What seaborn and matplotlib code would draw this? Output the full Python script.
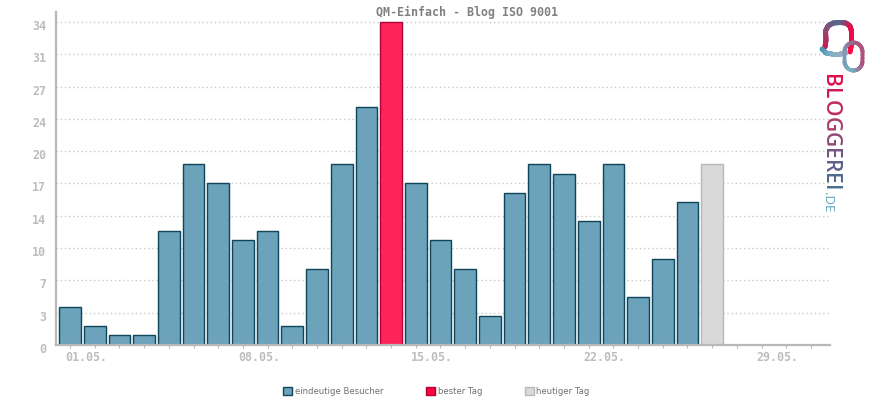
import numpy as np
import pandas as pd
import matplotlib
matplotlib.use("Agg")
import matplotlib.pyplot as plt
import seaborn as sns
from matplotlib.patches import Patch
from matplotlib.transforms import ScaledTranslation
from matplotlib.collections import LineCollection
from matplotlib.colors import LinearSegmentedColormap

# ---------- data ----------
all_days = [f"{d:02d}.05." for d in range(1, 32)]
visitors = [4, 2, 1, 1, 12, 19, 17, 11, 12, 2, 8, 19, 25, 34, 17, 11, 8, 3, 16, 19, 18, 13, 19, 5, 9, 15, 19]
kinds = ["eindeutige Besucher"] * 13 + ["bester Tag"] + ["eindeutige Besucher"] * 12 + ["heutiger Tag"]
y_tick_values = [0, 3.4, 6.8, 10.2, 13.6, 17, 20.4, 23.8, 27.2, 30.6, 34]
y_tick_labels = ["0", "3", "7", "10", "14", "17", "20", "24", "27", "31", "34"]
title = "QM-Einfach - Blog ISO 9001"
legend_labels = ["eindeutige Besucher", "bester Tag", "heutiger Tag"]

fills = {"eindeutige Besucher": "#6ca2ba", "bester Tag": "#ff2458", "heutiger Tag": "#d9d9d9"}
edges = {"eindeutige Besucher": "#0f4559", "bester Tag": "#b0003c", "heutiger Tag": "#b8b8b8"}
legend_fills = {"eindeutige Besucher": "#6ca2ba", "bester Tag": "#ff0040", "heutiger Tag": "#d9d9d9"}

df = pd.DataFrame({"day": all_days[:len(visitors)], "value": visitors, "kind": kinds})

# ---------- figure ----------
sns.set_theme(style="white")
plt.rcParams["font.family"] = ["DejaVu Sans"]
W, H = 870, 400
fig = plt.figure(figsize=(W / 100, H / 100), dpi=100, facecolor="white")
ax = fig.add_axes([56 / W, (H - 345) / H, (830 - 56) / W, (345 - 12) / H])

sns.barplot(data=df, x="day", y="value", hue="kind", order=all_days, hue_order=legend_labels,
            palette=fills, dodge=False, width=0.88, legend=False, ax=ax, zorder=3, saturation=1)
for container, kind in zip(ax.containers, legend_labels):
    for bar in container:
        bar.set_edgecolor(edges[kind])
        bar.set_linewidth(1.0)

ax.set_xlim(-0.567, 30.77)
ax.set_ylim(0, 35.05)
ax.set_xlabel("")
ax.set_ylabel("")

mono = "DejaVu Sans Mono"
tick_grey = "#bdbdbd"
ax.set_yticks(y_tick_values)
ax.set_yticklabels(y_tick_labels, family=mono, fontsize=8.4, color=tick_grey, fontweight="bold")
ax.tick_params(axis="y", length=0, pad=7)
y_offset = ScaledTranslation(0, -3 / 100, fig.dpi_scale_trans)
for lab in ax.get_yticklabels():
    lab.set_transform(lab.get_transform() + y_offset)
ax.set_xticks(range(len(all_days)))
x_labels = [d if (i % 7 == 0 and i < 29) else "" for i, d in enumerate(all_days)]
ax.set_xticklabels(x_labels, family=mono, fontsize=8.4, color=tick_grey, fontweight="bold")
ax.tick_params(axis="x", length=2.5, width=0.8, color="#b8b8b8", pad=2, bottom=True)
offset = ScaledTranslation(16 / 100, 0, fig.dpi_scale_trans)
for lab in ax.get_xticklabels():
    lab.set_transform(lab.get_transform() + offset)

ax.grid(axis="y", color="#c8c8c8", linestyle=(0, (1, 2)), linewidth=1.0, zorder=0)
ax.grid(axis="x", visible=False)
ax.set_axisbelow(True)
for s in ("top", "right"):
    ax.spines[s].set_visible(False)
for s in ("left", "bottom"):
    ax.spines[s].set_color("#b8b8b8")
    ax.spines[s].set_linewidth(1.6)
    ax.spines[s].set_zorder(6)

fig.text(467 / W, 1 - 12 / H, title, family=mono, fontweight="bold", fontsize=8.4,
         color="#808080", ha="center", va="center")

handles = [Patch(facecolor=legend_fills[k], edgecolor=edges[k], linewidth=1.0) for k in legend_labels]
fig.legend(handles, legend_labels, loc="center", bbox_to_anchor=(436.5 / W, 1 - 391.5 / H), ncol=3,
           frameon=False, fontsize=6.15, labelcolor="#707070", handlelength=1.05, handleheight=1.05,
           handletextpad=0.3, columnspacing=5.0, borderpad=0, borderaxespad=0)

# ---------- logo, drawn in pixel coordinates ----------
lax = fig.add_axes([0, 0, 1, 1], facecolor="none", zorder=10)
lax.set_xlim(0, W)
lax.set_ylim(H, 0)
lax.axis("off")

def stroke(xs, ys, stops, lw=3.4):
    t = np.linspace(0, 1, len(xs))
    tt = np.linspace(0, 1, 80)
    px = np.interp(tt, t, xs)
    py = np.interp(tt, t, ys)
    seg = np.stack([np.c_[px[:-1], py[:-1]], np.c_[px[1:], py[1:]]], axis=1)
    lc = LineCollection(seg, cmap=LinearSegmentedColormap.from_list("s", stops), array=tt[:-1],
                        linewidths=lw, capstyle="round")
    lax.add_collection(lc)

stroke([825, 826, 825.5, 828, 833, 840, 846, 850, 851.5, 851.5, 850],
       [47, 40, 31, 26, 23, 22.5, 23, 26, 31, 44, 52],
       ["#d0184f", "#8f4a75", "#4f6a8f", "#e0104a", "#ff0a40"], lw=3.6)
stroke([822, 826, 832, 840, 846], [49, 53, 54, 54, 53], ["#3f8fb0", "#7fb0c4", "#a8a8c0"], lw=3.4)
ang = np.linspace(0, 2 * np.pi, 60)
lx = 853.5 + 9.0 * np.cos(ang)
ly = 56.5 + np.sign(np.sin(ang)) * 4.5 + 9.5 * np.sin(ang)
stroke(np.roll(lx, 40), np.roll(ly, 40),
       ["#74b0c6", "#7f8fae", "#a85580", "#b04f7c", "#74b0c6"], lw=2.8)

letters = list("BLOGGEREI")
letter_colors = ["#e0104a", "#d01a55", "#c02a60", "#a83d6a", "#8f4a75", "#735580", "#5e5f88", "#4f6a8f", "#4a6f95"]
renderer = fig.canvas.get_renderer()
logo_font = matplotlib.font_manager.FontProperties(family="Open Sans", size=15, weight="semibold")
advances = [renderer.get_text_width_height_descent(c, logo_font, False)[0] for c in letters]
scale = 118 / sum(advances)
pos = 74.0
for c, col, adv in zip(letters, letter_colors, advances):
    lax.text(824.3, pos, c, rotation=270, rotation_mode="anchor", ha="left", va="baseline",
             fontproperties=logo_font, color=col)
    pos += adv * scale
lax.text(824.3, pos + 0.5, ".DE", rotation=270, rotation_mode="anchor", ha="left", va="baseline",
         family="Open Sans", fontsize=9.5, color="#5f9fbd")

fig.savefig("out.png", dpi=100)
